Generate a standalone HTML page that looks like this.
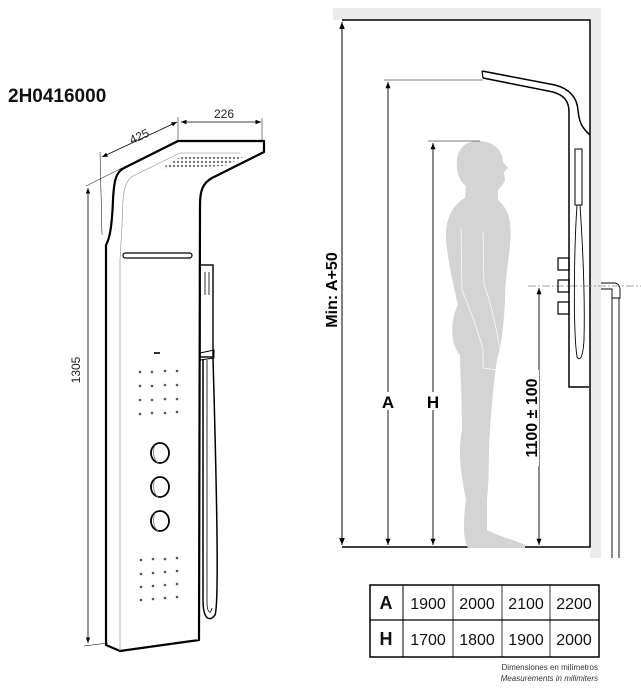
<!DOCTYPE html>
<html><head><meta charset="utf-8"><style>
html,body{margin:0;padding:0;background:#fff;}
svg{display:block;}
text{font-family:"Liberation Sans",sans-serif;}
</style></head><body>
<svg width="641" height="691" viewBox="0 0 641 691" xmlns="http://www.w3.org/2000/svg">
<defs>
<marker id="ar" viewBox="0 0 10 10" refX="10" refY="5" markerWidth="7" markerHeight="7" orient="auto-start-reverse"><path d="M0,1 L10,5 L0,9 z" fill="#000"/></marker>
<pattern id="dots" width="4" height="4" patternUnits="userSpaceOnUse"><circle cx="2" cy="2" r="1.2" fill="#777"/></pattern>
</defs>
<text x="8" y="102" font-size="19" fill="#111" style="font-weight:600">2H0416000</text>

<g fill="none" stroke="#000">
<line x1="102" y1="157" x2="177" y2="122" stroke-width="0.8" marker-start="url(#ar)" marker-end="url(#ar)"/>
<line x1="100" y1="152" x2="102" y2="235" stroke-width="0.5"/>
<line x1="178" y1="117" x2="178" y2="140" stroke-width="0.5"/>
<line x1="181" y1="122" x2="261" y2="122" stroke-width="0.8" marker-start="url(#ar)" marker-end="url(#ar)"/>
<line x1="262" y1="118" x2="262" y2="140" stroke-width="0.5"/>
<line x1="86" y1="186" x2="122" y2="168" stroke-width="0.5"/>
<line x1="88" y1="188" x2="88" y2="643" stroke-width="0.8" marker-start="url(#ar)" marker-end="url(#ar)"/>
<line x1="84" y1="646" x2="108" y2="643" stroke-width="0.5"/>
<path d="M106,645 L106,245 C110,238 112,225 113,200 C114,180 116,172 124,168 L178,141 L264,141 L264,152 L212,178 C203,183 200,190 200,205 L199,640 L120,651 Z" stroke-width="2.2" stroke-linejoin="round"/>
<path d="M120,651 L120,260 C121,245 122,230 123,200 C124,185 128,178 135,175 L180,153 L240,153" stroke-width="0.6" stroke="#888"/>
<path d="M160,169 L180,157 L247,155 L225,166 Z" stroke="none" fill="url(#dots)"/>
<rect x="123" y="253" width="69" height="5" rx="2.5" stroke-width="1.2"/>
<rect x="200" y="265" width="13" height="92" stroke-width="1.4"/>
<line x1="205" y1="272" x2="205" y2="295" stroke-width="2" stroke="#999"/>
<line x1="209" y1="272" x2="209" y2="295" stroke-width="2" stroke="#999"/>
<path d="M200,353 L214,350 L214,358 L200,360 Z" stroke-width="1"/>
<path d="M203,360 L203,600 C203,620 210,622 215,615 C219,605 217,500 213,358" stroke-width="1.5"/>
<path d="M207,360 L207,605 C208,614 211,614 212,608" stroke-width="0.8"/>
<rect x="154" y="352" width="6" height="2" fill="#333" stroke="none"/>
</g>
<g fill="#555">
<circle cx="140" cy="372" r="1.3"/><circle cx="152" cy="372" r="1.3"/><circle cx="165" cy="371" r="1.3"/><circle cx="177" cy="371" r="1.3"/>
<circle cx="140" cy="386" r="1.3"/><circle cx="152" cy="386" r="1.3"/><circle cx="165" cy="385" r="1.3"/><circle cx="177" cy="385" r="1.3"/>
<circle cx="140" cy="400" r="1.3"/><circle cx="152" cy="400" r="1.3"/><circle cx="165" cy="399" r="1.3"/><circle cx="177" cy="399" r="1.3"/>
<circle cx="140" cy="414" r="1.3"/><circle cx="152" cy="413" r="1.3"/><circle cx="165" cy="413" r="1.3"/><circle cx="177" cy="412" r="1.3"/>
<circle cx="141" cy="560" r="1.3"/><circle cx="153" cy="559" r="1.3"/><circle cx="165" cy="559" r="1.3"/><circle cx="177" cy="558" r="1.3"/>
<circle cx="141" cy="574" r="1.3"/><circle cx="153" cy="573" r="1.3"/><circle cx="165" cy="572" r="1.3"/><circle cx="177" cy="571" r="1.3"/>
<circle cx="141" cy="587" r="1.3"/><circle cx="153" cy="586" r="1.3"/><circle cx="165" cy="585" r="1.3"/><circle cx="177" cy="584" r="1.3"/>
<circle cx="141" cy="600" r="1.3"/><circle cx="153" cy="599" r="1.3"/><circle cx="165" cy="598" r="1.3"/><circle cx="177" cy="597" r="1.3"/>
</g>
<g fill="none" stroke="#000" stroke-width="1.8">
<ellipse cx="160" cy="453" rx="9" ry="10"/>
<ellipse cx="160" cy="487" rx="9" ry="10"/>
<ellipse cx="160" cy="521" rx="9" ry="10"/>
</g>
<g fill="none" stroke="#777" stroke-width="0.8">
<path d="M155,445 C152,452 154,460 158,463"/><path d="M155,479 C152,486 154,494 158,497"/><path d="M155,513 C152,520 154,528 158,531"/>
</g>
<text transform="translate(80,370) rotate(-90)" font-size="12" text-anchor="middle" fill="#222">1305</text>
<text transform="translate(141,140) rotate(-25)" font-size="12" text-anchor="middle" fill="#222">425</text>
<text x="224" y="118" font-size="12" text-anchor="middle" fill="#222">226</text>

<rect x="333" y="8" width="268" height="12" fill="#ececec"/>
<rect x="590" y="8" width="11" height="550" fill="#ececec"/>
<path d="M342,20 L590,20 L590,547 L342,547" fill="#fff" stroke="#000" stroke-width="1.5"/>

<path d="M478,141 C495,141 503,152 503,162 L508,168 L504,172 L505,180 C503,185 500,188 498,190 L498,200 C510,210 512,225 510,245 C508,265 505,280 505,300 C504,320 502,345 497,360 C494,380 492,400 490,430 C488,450 490,470 487,500 L487,530 C500,537 515,540 525,545 L525,548 L468,548 C463,540 463,520 466,500 C460,470 458,450 462,430 C462,400 460,370 460,355 C450,345 450,320 458,305 C452,280 448,260 446,240 C445,220 452,205 465,198 L466,186 C458,180 456,170 457,160 C458,148 466,141 478,141 Z" fill="#d4d4d4"/>
<path d="M461,228 L462,290 C470,310 478,330 483,350 L483,368 L497,370 L500,350 C495,320 490,300 484,285 L483,232" fill="none" stroke="#fff" stroke-width="0.7"/>

<g stroke="#000" fill="none">
<line x1="342" y1="22" x2="342" y2="545" stroke-width="1" marker-start="url(#ar)" marker-end="url(#ar)"/>
<line x1="384" y1="80" x2="483" y2="80" stroke-width="0.6"/>
<line x1="388" y1="82" x2="388" y2="545" stroke-width="0.9" marker-start="url(#ar)" marker-end="url(#ar)"/>
<line x1="428" y1="141" x2="480" y2="141" stroke-width="0.6"/>
<line x1="433" y1="143" x2="433" y2="545" stroke-width="0.9" marker-start="url(#ar)" marker-end="url(#ar)"/>
<line x1="539" y1="288" x2="539" y2="545" stroke-width="0.9" marker-start="url(#ar)" marker-end="url(#ar)"/>
<line x1="528" y1="286" x2="641" y2="286" stroke="#888" stroke-width="0.8" stroke-dasharray="8,2,2,2"/>
</g>
<rect x="380" y="392" width="16" height="18" fill="#fff"/>
<rect x="425" y="392" width="16" height="18" fill="#fff"/>
<text x="388" y="408" font-size="17" font-weight="bold" text-anchor="middle">A</text>
<text x="433" y="408" font-size="17" font-weight="bold" text-anchor="middle">H</text>
<rect x="521" y="370" width="18" height="96" fill="#fff"/>
<text transform="translate(537,418) rotate(-90)" font-size="16" font-weight="bold" text-anchor="middle">1100 ± 100</text>
<text transform="translate(337,290) rotate(-90)" font-size="16" font-weight="bold" text-anchor="middle">Min: A+50</text>

<g fill="none" stroke="#000" stroke-width="1.5">
<path d="M482,71 L555,85 C570,89 577,98 578,110 C579,122 582,128 590,135"/>
<path d="M483,78 L553,92 C563,95 569,100 569,112 L569,387 L589,387"/>
<path d="M482,71 L483,78" stroke-width="1.2"/>
<rect x="575" y="149" width="7" height="56" stroke-width="1"/>
<path d="M577,205 C574,250 573,330 577,357 C580,362 583,357 584,340 C585,300 583,250 580,205" stroke-width="0.9"/>
<path d="M558,258 L569,258 L569,270 L558,270 Z M558,280 L569,280 L569,292 L558,292 Z M558,302 L569,302 L569,314 L558,314 Z" stroke-width="1.2"/>
<path d="M601,283 L614,283 C618,283 620,286 620,290 L620,298 L612,298 L612,558" stroke-width="0.9"/>
<path d="M601,289 L612,289 L612,298 M619,298 L619,558" stroke-width="0.9"/>
</g>

<g stroke="#000" fill="none">
<rect x="370" y="585" width="229" height="72" stroke-width="1.5"/>
<line x1="370" y1="620" x2="599" y2="620" stroke-width="1.2"/>
<line x1="403" y1="585" x2="403" y2="657" stroke-width="1"/>
<line x1="453" y1="585" x2="453" y2="657" stroke-width="0.8"/>
<line x1="502" y1="585" x2="502" y2="657" stroke-width="0.8"/>
<line x1="550" y1="585" x2="550" y2="657" stroke-width="0.8"/>
</g>
<g font-size="16" text-anchor="middle" fill="#111">
<text x="386" y="609" font-weight="bold" font-size="18">A</text>
<text x="386" y="645" font-weight="bold" font-size="18">H</text>
<text x="428" y="609">1900</text><text x="477" y="609">2000</text><text x="526" y="609">2100</text><text x="574" y="609">2200</text>
<text x="428" y="645">1700</text><text x="477" y="645">1800</text><text x="526" y="645">1900</text><text x="574" y="645">2000</text>
</g>
<text x="598" y="670" font-size="8" text-anchor="end" fill="#333">Dimensiones en milímetros</text>
<text x="598" y="681" font-size="8" text-anchor="end" font-style="italic" fill="#333">Measurements in milimiters</text>
</svg>
</body></html>
